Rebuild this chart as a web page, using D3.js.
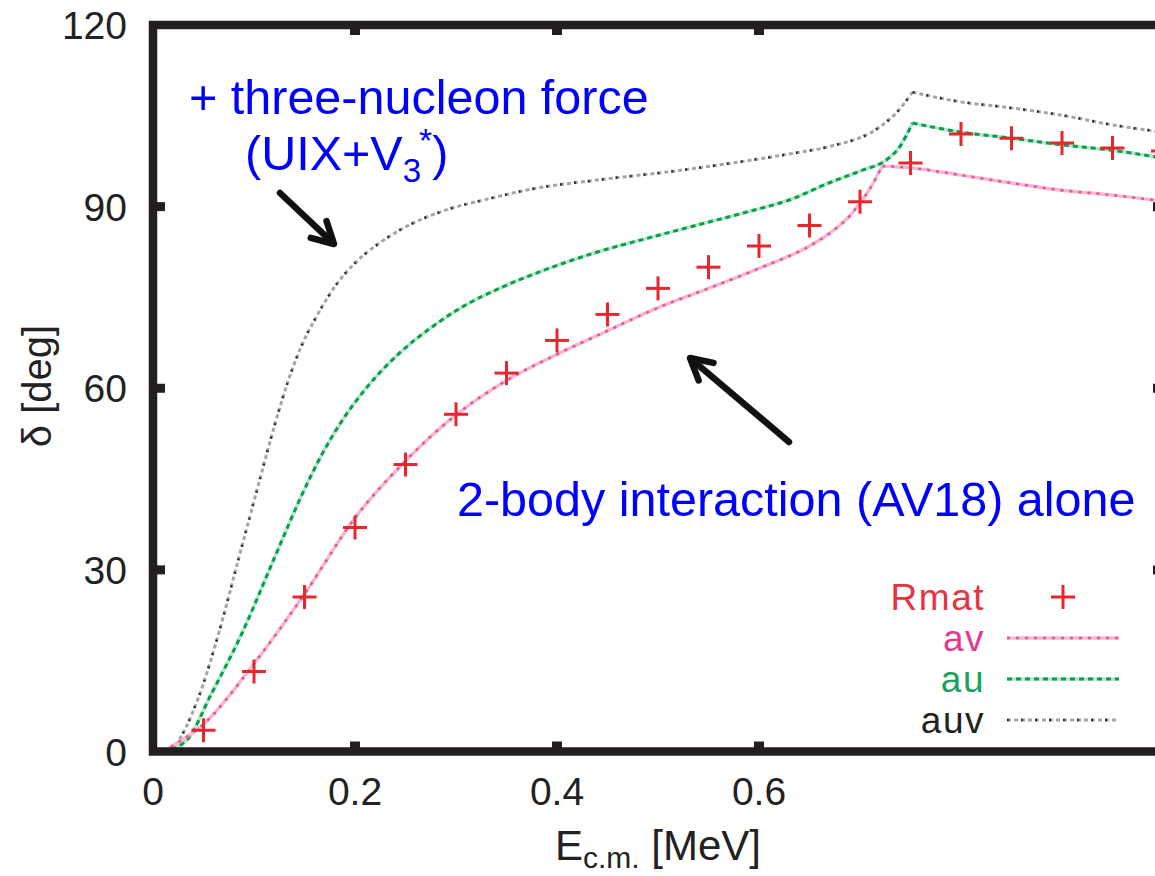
<!DOCTYPE html>
<html>
<head>
<meta charset="utf-8">
<script src="https://cdn.jsdelivr.net/npm/d3@7"></script>
<style>
  body { margin: 0; background: #fff; }
  svg { display: block; font-family: "Liberation Sans", Arial, sans-serif; }
</style>
</head>
<body>
<svg id="chart" width="1155" height="876"></svg>
<script>
// data (E in MeV, delta in deg)
const rmatE = [0.05, 0.10, 0.15, 0.20, 0.25, 0.30, 0.35, 0.40, 0.45, 0.50, 0.55, 0.60, 0.65, 0.70, 0.75, 0.80, 0.85, 0.90, 0.95, 1.00];
const rmatDelta = [3.5, 13.2, 25.5, 37.0, 47.4, 55.7, 62.5, 67.9, 72.2, 76.5, 80.0, 83.5, 86.9, 90.8, 97.2, 102.0, 101.3, 100.5, 99.7, 99.2];

const avE = [0.01, 0.02, 0.05, 0.10, 0.15, 0.20, 0.25, 0.30, 0.35, 0.40, 0.45, 0.50, 0.55, 0.60, 0.65, 0.67, 0.69, 0.70, 0.71, 0.722, 0.75, 0.80, 0.85, 0.90, 0.95, 1.00];
const avDelta = [0, 1.0, 4.5, 14.5, 26.0, 38.6, 48.0, 55.6, 61.3, 65.6, 69.5, 73.3, 76.5, 79.8, 83.5, 85.6, 88.5, 90.6, 93.0, 96.7, 96.4, 95.2, 93.9, 92.7, 91.9, 90.9];

const auE = [0.01, 0.033, 0.058, 0.088, 0.12, 0.148, 0.167, 0.187, 0.211, 0.244, 0.276, 0.31, 0.343, 0.392, 0.44, 0.49, 0.54, 0.59, 0.63, 0.669, 0.702, 0.726, 0.739, 0.752, 0.80, 0.85, 0.90, 0.95, 1.00];
const auDelta = [0, 1.8, 9.6, 19.5, 31.9, 42.6, 49.0, 54.6, 60.0, 65.8, 70.1, 73.8, 76.5, 79.8, 82.5, 84.8, 87.0, 89.2, 91.1, 93.9, 96.0, 97.7, 99.8, 103.8, 102.3, 101.3, 100.2, 99.3, 98.0];

const auvE = [0.01, 0.019, 0.045, 0.065, 0.085, 0.102, 0.122, 0.133, 0.1455, 0.162, 0.181, 0.202, 0.227, 0.244, 0.293, 0.33, 0.375, 0.44, 0.508, 0.573, 0.637, 0.669, 0.719, 0.736, 0.752, 0.80, 0.85, 0.90, 0.95, 1.00];
const auvDelta = [0, 0.6, 8.9, 19.5, 32.0, 42.6, 54.8, 60.8, 66.4, 71.9, 77.0, 81.0, 84.3, 86.1, 89.6, 91.2, 92.9, 94.4, 95.7, 97.2, 98.9, 99.9, 103.1, 105.5, 108.9, 107.3, 106.3, 105.1, 103.5, 102.3];

const xTicks = [0, 0.2, 0.4, 0.6];
const xTickLabels = ["0", "0.2", "0.4", "0.6"];
const yTicks = [0, 30, 60, 90, 120];

const svg = d3.select("#chart");
const x = d3.scaleLinear().domain([0, 1]).range([153, 1163]);
const y = d3.scaleLinear().domain([0, 120]).range([751.5, 25]);

// clip to the inside of the frame
svg.append("defs").append("clipPath").attr("id", "plot")
  .append("rect").attr("x", x(0)).attr("y", y(120)).attr("width", x(1) - x(0)).attr("height", y(0) - y(120));

const plot = svg.append("g").attr("clip-path", "url(#plot)");

function zip(xs, ys) { return xs.map((v, i) => ({ e: v, d: ys[i] })); }

const line = d3.line().x(p => x(p.e)).y(p => y(p.d)).curve(d3.curveMonotoneX);

// split at the peak so the kink stays sharp
function drawCurve(xs, ys, layers) {
  const pts = zip(xs, ys);
  const k = d3.maxIndex(pts, p => p.d);
  const parts = [pts.slice(0, k + 1), pts.slice(k)];
  layers.forEach(st => {
    parts.forEach(part => {
      plot.append("path").datum(part).attr("d", line)
        .attr("fill", "none").attr("stroke", st.color).attr("stroke-width", st.width)
        .attr("stroke-dasharray", st.dash || null);
    });
  });
}

const avStyle = [{ color: "#f6b7d1", width: 3.5 }, { color: "#e9539a", width: 2.5, dash: "3,6" }];
const auStyle = [{ color: "#bfe2cb", width: 3.5 }, { color: "#00a24c", width: 3, dash: "5,4" }];
const auvStyle = [{ color: "#a5a5a5", width: 3, dash: "4,3" }, { color: "#2a2a2a", width: 2.5, dash: "2,12" }];

drawCurve(auvE, auvDelta, auvStyle);
drawCurve(auE, auDelta, auStyle);
drawCurve(avE, avDelta, avStyle);

// Rmat crosses
const cross = 12;
const rm = plot.selectAll(".rm").data(zip(rmatE, rmatDelta)).enter().append("g")
  .attr("transform", p => `translate(${x(p.e)},${y(p.d)})`);
rm.append("line").attr("x1", -cross).attr("x2", cross).attr("stroke", "#e8262e").attr("stroke-width", 3);
rm.append("line").attr("y1", -cross).attr("y2", cross).attr("stroke", "#e8262e").attr("stroke-width", 3);

// frame
const frameColor = "#231f20";
svg.append("rect").attr("x", x(0)).attr("y", y(120)).attr("width", x(1) - x(0)).attr("height", y(0) - y(120))
  .attr("fill", "none").attr("stroke", frameColor).attr("stroke-width", 8.5);

// ticks, inward on all four sides
xTicks.slice(1).forEach(t => {
  svg.append("line").attr("x1", x(t)).attr("x2", x(t)).attr("y1", y(0)).attr("y2", y(0) - 10).attr("stroke", frameColor).attr("stroke-width", 10);
  svg.append("line").attr("x1", x(t)).attr("x2", x(t)).attr("y1", y(120)).attr("y2", y(120) + 10).attr("stroke", frameColor).attr("stroke-width", 10);
});
yTicks.slice(1, -1).forEach(t => {
  svg.append("line").attr("x1", x(0)).attr("x2", x(0) + 12).attr("y1", y(t)).attr("y2", y(t)).attr("stroke", frameColor).attr("stroke-width", 9);
  svg.append("line").attr("x1", x(1)).attr("x2", x(1) - 10).attr("y1", y(t)).attr("y2", y(t)).attr("stroke", frameColor).attr("stroke-width", 9);
});

// tick labels
svg.selectAll(".yl").data(yTicks).enter().append("text")
  .attr("x", 127).attr("y", t => y(t)).attr("dy", "0.36em").attr("text-anchor", "end")
  .attr("font-size", 39).attr("fill", "#222").text(t => t);
svg.selectAll(".xl").data(xTicks).enter().append("text")
  .attr("x", t => x(t)).attr("y", 805).attr("text-anchor", "middle")
  .attr("font-size", 39).attr("fill", "#222").text((t, i) => xTickLabels[i]);

// axis titles
const xt = svg.append("text").attr("x", 658).attr("y", 860).attr("text-anchor", "middle").attr("font-size", 42).attr("fill", "#222");
xt.append("tspan").text("E");
xt.append("tspan").attr("font-size", 30).attr("dy", 8).text("c.m.");
xt.append("tspan").attr("dy", -8).text(" [MeV]");

svg.append("text").attr("transform", "translate(51,386) rotate(-90)").attr("text-anchor", "middle")
  .attr("font-size", 40).attr("fill", "#222").text("δ [deg]");

// legend
const legend = [
  { name: "Rmat", color: "#e8323f", style: null },
  { name: "av", color: "#e6388f", style: avStyle },
  { name: "au", color: "#1aa060", style: auStyle },
  { name: "auv", color: "#222", style: auvStyle }
];
legend.forEach((l, i) => {
  const ly = 597 + i * 41;
  svg.append("text").attr("x", 985).attr("y", ly).attr("dy", "0.36em").attr("text-anchor", "end")
    .attr("font-size", 37).attr("letter-spacing", 1.5).attr("fill", l.color).text(l.name);
  if (l.style) {
    l.style.forEach(st => svg.append("line").attr("x1", 1007).attr("x2", 1119).attr("y1", ly).attr("y2", ly)
      .attr("stroke", st.color).attr("stroke-width", st.width).attr("stroke-dasharray", st.dash || null));
  } else {
    svg.append("line").attr("x1", 1063 - cross).attr("x2", 1063 + cross).attr("y1", ly).attr("y2", ly).attr("stroke", "#e8262e").attr("stroke-width", 3);
    svg.append("line").attr("x1", 1063).attr("x2", 1063).attr("y1", ly - cross).attr("y2", ly + cross).attr("stroke", "#e8262e").attr("stroke-width", 3);
  }
});

// annotations
const blue = "#0000ff";
svg.append("text").attr("x", 189).attr("y", 114).attr("font-size", 48.5).attr("fill", blue).text("+ three-nucleon force");
const t2 = svg.append("text").attr("x", 245).attr("y", 170).attr("font-size", 48.5).attr("fill", blue);
t2.append("tspan").text("(UIX+V");
t2.append("tspan").attr("font-size", 33).attr("dy", 12).text("3");
t2.append("tspan").attr("font-size", 34).attr("dx", -2).attr("dy", -30).text("*");
t2.append("tspan").attr("dy", 18).text(")");
svg.append("text").attr("x", 457).attr("y", 516).attr("font-size", 48.5).attr("fill", blue).text("2-body interaction (AV18) alone");

// arrows
function arrow(x1, y1, x2, y2) {
  const a = Math.atan2(y2 - y1, x2 - x1), h = 24, s = 0.5;
  const g = svg.append("g").attr("stroke", "#111").attr("stroke-width", 6.5).attr("fill", "none")
    .attr("stroke-linecap", "round").attr("stroke-linejoin", "round");
  g.append("line").attr("x1", x1).attr("y1", y1).attr("x2", x2 - 3 * Math.cos(a)).attr("y2", y2 - 3 * Math.sin(a));
  g.append("polyline").attr("points", [
    [x2 - h * Math.cos(a - s), y2 - h * Math.sin(a - s)], [x2, y2], [x2 - h * Math.cos(a + s), y2 - h * Math.sin(a + s)]
  ].map(p => p.join(",")).join(" "));
}
arrow(280, 193, 334, 244);
arrow(789, 442, 690, 358);
</script>
</body>
</html>
